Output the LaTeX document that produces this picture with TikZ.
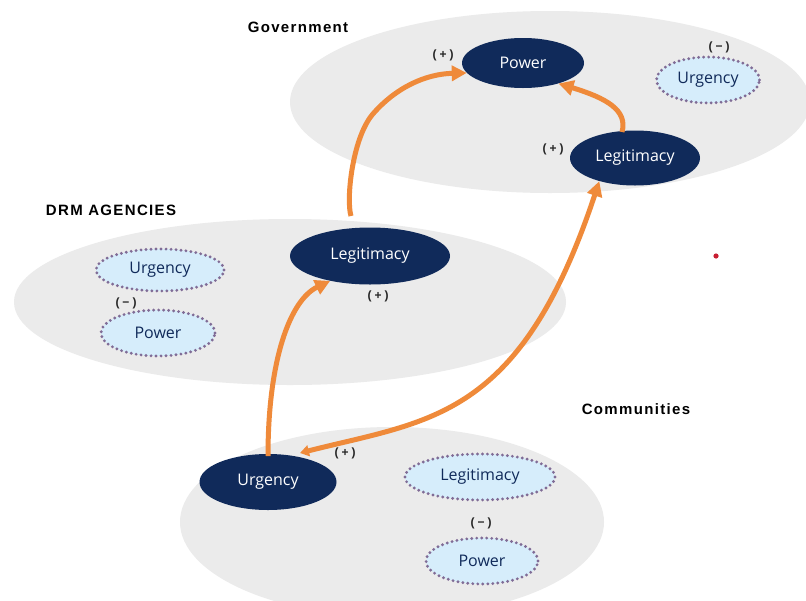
\documentclass[tikz,border=0pt]{standalone}
\usepackage{fontspec}
\setmainfont{Open Sans}
\newfontfamily\headfont[LetterSpace=9]{Liberation Sans}
\newfontfamily\signfont{Liberation Sans}
\usetikzlibrary{shapes.geometric,arrows.meta}
\definecolor{zonegray}{RGB}{235,235,235}
\definecolor{navy}{RGB}{16,42,90}
\definecolor{paleblue}{RGB}{214,237,251}
\definecolor{dotpurple}{RGB}{128,108,150}
\definecolor{arroworange}{RGB}{239,138,58}
\definecolor{reddot}{RGB}{200,30,50}
\tikzset{
  zone/.style={ellipse, fill=zonegray, draw=none},
  strong/.style={ellipse, fill=navy, draw=none, text=white, font=\fontsize{16}{18}\selectfont, inner sep=0pt},
  weak/.style={ellipse, fill=paleblue, draw=dotpurple, line width=3.2pt, dash pattern=on 0pt off 5pt, line cap=round, text=navy, font=\fontsize{16}{18}\selectfont, inner sep=0pt},
  zonelabel/.style={font=\headfont\bfseries\fontsize{15}{17}\selectfont, text=black},
  sign/.style={font=\signfont\bfseries\fontsize{12}{14}\selectfont, text=black!85},
  flow/.style={draw=arroworange, line width=5pt, -{Triangle[length=15pt,width=15pt]}},
}
\begin{document}
\begin{tikzpicture}[x=1pt,y=-1pt]
\clip (0,0) rectangle (806,600);
\fill[white] (0,0) rectangle (806,600);
% zones
\node[zone, minimum width=520pt, minimum height=182pt] (gov) at (550,102) {};
\node[zone, minimum width=552pt, minimum height=166pt] (drm) at (290,302) {};
\node[zone, minimum width=424pt, minimum height=190pt] (com) at (392,522) {};
% zone labels
\node[zonelabel] (govlab) at (298,27) {Government};
\node[zonelabel] (drmlab) at (111,210) {DRM AGENCIES};
\node[zonelabel] (comlab) at (636,409) {Communities};
% strong nodes
\node[strong, minimum width=122pt, minimum height=50pt] (pgov) at (523,63) {Power};
\node[strong, minimum width=130pt, minimum height=55pt] (lgov) at (635,158) {Legitimacy};
\node[strong, minimum width=160pt, minimum height=57pt] (ldrm) at (370,256) {Legitimacy};
\node[strong, minimum width=137pt, minimum height=56pt] (ucom) at (268,482) {Urgency};
% weak nodes
\node[weak, minimum width=103pt, minimum height=46pt] (ugov) at (708,80) {Urgency};
\node[weak, minimum width=128pt, minimum height=42pt] (udrm) at (160,270) {Urgency};
\node[weak, minimum width=114pt, minimum height=46pt] (pdrm) at (158,333) {Power};
\node[weak, minimum width=150pt, minimum height=46pt] (lcom) at (480,477) {Legitimacy};
\node[weak, minimum width=112pt, minimum height=46pt] (pcom) at (482,561) {Power};
% signs
\node[sign] (s1) at (443,55) {(\kern3pt+\kern3pt)};
\node[sign] (s2) at (719,47) {(\kern3pt−\kern3pt)};
\node[sign] (s3) at (553,149) {(\kern3pt+\kern3pt)};
\node[sign] (s4) at (378,296) {(\kern3pt+\kern3pt)};
\node[sign] (s5) at (126,303) {(\kern3pt−\kern3pt)};
\node[sign] (s6) at (345,453) {(\kern3pt+\kern3pt)};
\node[sign] (s7) at (481,523) {(\kern3pt−\kern3pt)};
% red dot
\fill[reddot] (716,256) circle (2.6pt);
% arrows
\coordinate (ustart) at (268,456);
\coordinate (lstart) at (351,216);
\coordinate (gstart) at (622,132);
\coordinate (cstart) at (300,453);
\draw[flow] (ustart) .. controls (268,360) and (290,300) .. (ldrm.212);
\draw[flow] (lstart) .. controls (346,200) and (352,140) .. (372,115) .. controls (395,88) and (425,74) .. (pgov.190);
\draw[flow] (gstart) .. controls (628,110) and (606,98) .. (pgov.330);
\draw[draw=arroworange, line width=5pt, {Triangle[length=9pt,width=11pt]}-{Triangle[length=15pt,width=15pt]}]
  (cstart) .. controls (430,420) and (520,420) .. (lgov.213);
\end{tikzpicture}
\end{document}
